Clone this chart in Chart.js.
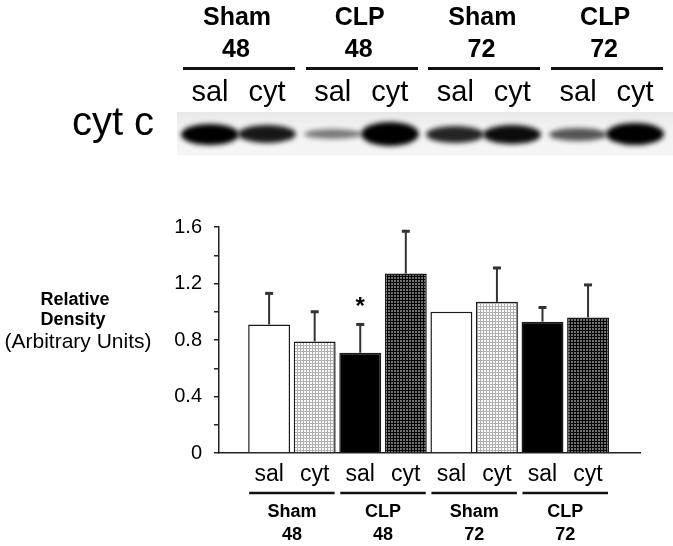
<!DOCTYPE html>
<html>
<head>
<meta charset="utf-8">
<script src="https://cdn.jsdelivr.net/npm/chart.js@4.4.0/dist/chart.umd.min.js"></script>
<style>
  body { margin: 0; background: #fff; }
  #pagina { position: relative; width: 673px; height: 546px; overflow: hidden; font-family: Arial, "Liberation Sans", sans-serif; color: #000; }
  #grafico { position: absolute; left: 0; top: 0; }
  .txt { position: absolute; white-space: nowrap; line-height: 1; transform: translateX(-50%); }
  .linha { position: absolute; height: 3px; background: #111; }
  #blot { position: absolute; left: 177px; top: 112px; width: 496px; height: 43px; background: linear-gradient(#e8e8e8, #f3f3f3 40%, #f5f5f5); }
  .banda { position: absolute; border-radius: 50%; background: #000; filter: blur(2.5px); }
</style>
</head>
<body>
<div id="pagina">
  <canvas id="grafico" width="673" height="546"></canvas>
</div>
<script>
const rotulos = ['sal', 'cyt', 'sal', 'cyt', 'sal', 'cyt', 'sal', 'cyt']
const gruposLinha1 = ['Sham', 'CLP', 'Sham', 'CLP']
const gruposLinha2 = ['48', '48', '72', '72']
const medias = [0.91, 0.79, 0.71, 1.27, 1.00, 1.07, 0.93, 0.96]
const erros = [0.22, 0.21, 0.20, 0.30, 0, 0.24, 0.10, 0.23]
const significancia = ['', '', '*', '', '', '', '', '']
const ticksY = [0, 0.4, 0.8, 1.2, 1.6]
// intensidade relativa das bandas do western blot (estimada)
const intensidadeBandas = [0.85, 0.7, 0.3, 1.0, 0.65, 0.75, 0.45, 0.9]

const fonte = 'Arial, "Liberation Sans", sans-serif'
const pagina = document.getElementById('pagina')

function addTexto(texto, cx, baseline, tamanho, negrito) {
    let d = document.createElement('div')
    d.className = 'txt'
    d.textContent = texto
    d.style.fontSize = tamanho + 'px'
    d.style.fontWeight = negrito ? 'bold' : 'normal'
    d.style.left = cx + 'px'
    d.style.top = (baseline - 0.8465 * tamanho) + 'px'
    pagina.appendChild(d)
}

// parte de cima: cabecalhos, linhas, pistas e blot
let blot = document.createElement('div')
blot.id = 'blot'
pagina.appendChild(blot)

gruposLinha1.forEach((g, i) => {
    let esq = 183 + i * 122.7
    let centro = esq + 56
    let ln = document.createElement('div')
    ln.className = 'linha'
    ln.style.left = esq + 'px'
    ln.style.top = '67px'
    ln.style.width = '112px'
    pagina.appendChild(ln)
    addTexto(g, centro - 2, 25, 25, true)
    addTexto(gruposLinha2[i], centro - 3, 57, 25, true)
    for (let k = 0; k < 2; k++) {
        let idx = i * 2 + k
        let cx = centro + (k == 0 ? -29 : 28)
        addTexto(rotulos[idx], cx, 102, 29, false)
        let s = intensidadeBandas[idx]
        let b = document.createElement('div')
        b.className = 'banda'
        let alt = 4 + 20 * s
        b.style.width = '58px'
        b.style.height = alt + 'px'
        b.style.left = (cx - 29 - 177) + 'px'
        b.style.top = (22 - alt / 2) + 'px'
        b.style.opacity = Math.min(1, 0.2 + s)
        blot.appendChild(b)
    }
})
addTexto('cyt c', 113, 135, 40, false)

addTexto('Relative', 75, 305, 18, true)
addTexto('Density', 73, 325, 18, true)
addTexto('(Arbitrary Units)', 78, 348, 21, false)

// padroes de preenchimento
const ctxGrafico = document.getElementById('grafico').getContext('2d')
function criarPadrao(fundo, grade) {
    let c = document.createElement('canvas')
    c.width = 3
    c.height = 3
    let cx = c.getContext('2d')
    cx.fillStyle = fundo
    cx.fillRect(0, 0, 3, 3)
    cx.fillStyle = grade
    cx.fillRect(0, 0, 3, 1)
    cx.fillRect(0, 0, 1, 3)
    return ctxGrafico.createPattern(c, 'repeat')
}
const padraoClaro = criarPadrao('#ffffff', '#b0b0b0')
const padraoEscuro = criarPadrao('#707070', '#000000')
const coresTratamento = ['#ffffff', padraoClaro, '#000000', padraoEscuro]

const desenhosExtras = {
    id: 'desenhosExtras',
    afterDatasetsDraw(chart) {
        const ctx = chart.ctx
        const x = chart.scales.x
        const y = chart.scales.y
        ctx.save()
        ctx.strokeStyle = '#333'
        medias.forEach((m, i) => {
            let px = x.getPixelForValue(i)
            let topo = y.getPixelForValue(m + erros[i])
            if (erros[i] > 0) {
                ctx.lineWidth = 2
                ctx.beginPath()
                ctx.moveTo(px, y.getPixelForValue(m))
                ctx.lineTo(px, topo)
                ctx.stroke()
                ctx.lineWidth = 3
                ctx.beginPath()
                ctx.moveTo(px - 4, topo)
                ctx.lineTo(px + 4, topo)
                ctx.stroke()
            }
            if (significancia[i]) {
                ctx.fillStyle = '#000'
                ctx.font = 'bold 24px ' + fonte
                ctx.textAlign = 'center'
                ctx.textBaseline = 'alphabetic'
                ctx.fillText(significancia[i], px, topo - 10)
            }
        })
        // linhas e rotulos dos grupos abaixo do eixo
        const meia = chart.getDatasetMeta(0).data[0].width / 2
        const base = y.getPixelForValue(0)
        ctx.fillStyle = '#000'
        ctx.strokeStyle = '#111'
        ctx.lineWidth = 2.5
        ctx.textAlign = 'center'
        ctx.textBaseline = 'alphabetic'
        ctx.font = 'bold 18px ' + fonte
        gruposLinha1.forEach((g, i) => {
            let x1 = x.getPixelForValue(i * 2) - meia + 1
            let x2 = x.getPixelForValue(i * 2 + 1) + meia - 1
            ctx.beginPath()
            ctx.moveTo(x1, base + 40)
            ctx.lineTo(x2, base + 40)
            ctx.stroke()
            ctx.fillText(g, (x1 + x2) / 2, base + 64)
            ctx.fillText(gruposLinha2[i], (x1 + x2) / 2, base + 87)
        })
        ctx.restore()
    }
}

const grafico = new Chart(ctxGrafico, {
    type: 'bar',
    data: {
        datasets: [{
            data: medias.map((m, i) => ({ x: i, y: m })),
            backgroundColor: medias.map((m, i) => coresTratamento[i % 4]),
            borderColor: '#1a1a1a',
            borderWidth: 1.5,
            barPercentage: 0.92,
            categoryPercentage: 1
        }]
    },
    options: {
        responsive: false,
        animation: false,
        events: [],
        layout: { padding: { top: 227, right: 33, bottom: 0, left: 0 } },
        plugins: { legend: { display: false }, tooltip: { enabled: false } },
        scales: {
            x: {
                type: 'linear',
                offset: false,
                min: -1.1,
                max: 8.14,
                afterBuildTicks: s => { s.ticks = rotulos.map((r, i) => ({ value: i })) },
                afterFit: s => { s.height = 93 },
                ticks: {
                    autoSkip: false,
                    maxRotation: 0,
                    padding: 8,
                    color: '#000',
                    font: { size: 23, family: fonte },
                    callback: v => rotulos[v]
                },
                grid: { display: false, drawTicks: false, offset: false },
                border: { display: true, color: '#222', width: 1.5 }
            },
            y: {
                min: 0,
                max: 1.6,
                afterFit: s => { s.width = 219 },
                ticks: {
                    stepSize: 0.2,
                    padding: 12,
                    color: '#000',
                    font: { size: 20, family: fonte },
                    callback: v => ticksY.some(t => Math.abs(t - v) < 1e-6) ? (Math.abs(v) < 1e-6 ? '0' : v.toFixed(1)) : ''
                },
                grid: { display: true, drawOnChartArea: false, drawTicks: true, tickLength: 5, color: '#222', lineWidth: 1.5 },
                border: { display: true, color: '#222', width: 1.5 }
            }
        }
    },
    plugins: [desenhosExtras]
})
</script>
</body>
</html>
